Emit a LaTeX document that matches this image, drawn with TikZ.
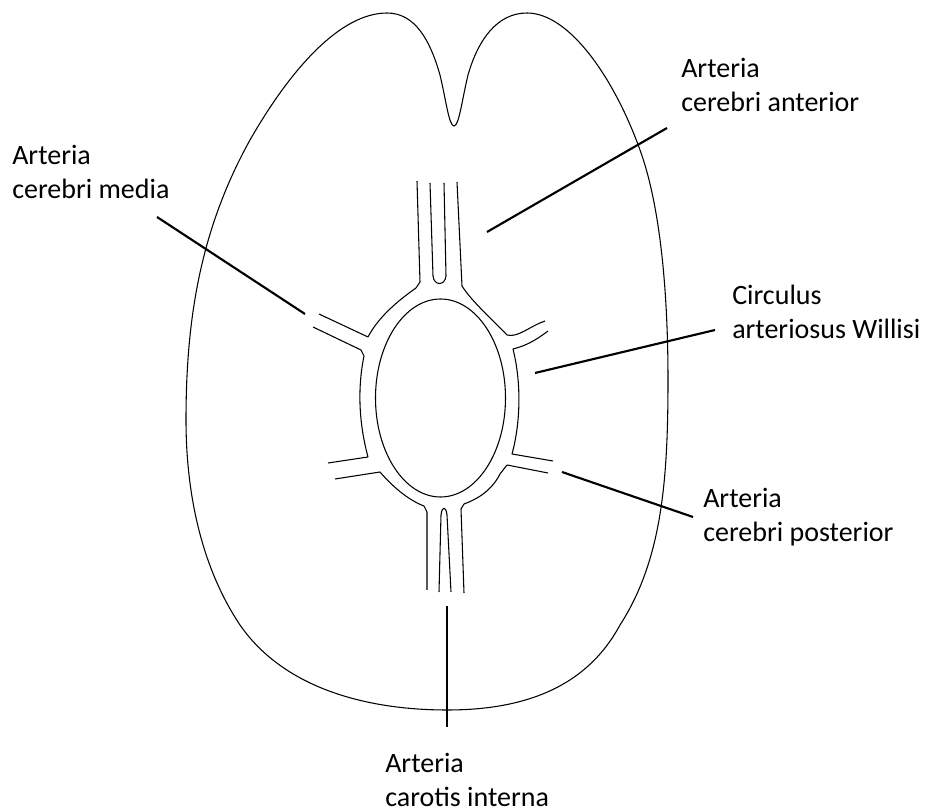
\documentclass[tikz,border=0pt]{standalone}
\usepackage{fontspec}
\setmainfont{Carlito}

\begin{document}
\begin{tikzpicture}[x=0.75pt,y=-0.75pt,
  brain/.style={line width=0.8pt},
  vessel/.style={line width=0.8pt,line join=round},
  leader/.style={line width=1.6pt},
  lbl/.style={anchor=north west,inner sep=0pt,align=left,
    font=\fontsize{21}{25.5}\selectfont}]
  \useasboundingbox (0,0) rectangle (926,812);

  % outline of the brain, notch at the top
  \draw[brain] (454,126) .. controls (459,126) and (462,100) .. (468,75)
    .. controls (478,40) and (497,13) .. (527,13)
    .. controls (570,13) and (615,80) .. (640,150)
    .. controls (660,205) and (668,290) .. (668,380)
    .. controls (668,480) and (662,560) .. (620,625)
    .. controls (585,690) and (520,710) .. (447,710)
    .. controls (370,710) and (285,690) .. (240,625)
    .. controls (200,565) and (186,490) .. (186,420)
    .. controls (186,320) and (200,230) .. (250,140)
    .. controls (290,70) and (340,13) .. (387,13)
    .. controls (415,13) and (430,40) .. (440,75)
    .. controls (446,100) and (449,126) .. (454,126) -- cycle;

  % circle of Willis
  \draw[vessel] (440.5,398) ellipse [x radius=65,y radius=99];
  % anterior trunk and upper arcs
  \draw[vessel] (417,181) -- (420,282) -- (416,288)
    .. controls (396,302) and (378,318) .. (368,337) -- (319,314);
  \draw[vessel] (430,183) -- (433,276)
    .. controls (434,286) and (445,286) .. (446,276) -- (444,183);
  \draw[vessel] (545,321) .. controls (530,326) and (518,338) .. (507,335)
    .. controls (495,322) and (472,302) .. (462,286) -- (457,182);
  % side segments
  \draw[vessel] (313,327) -- (361,350) -- (364,356)
    .. controls (358,385) and (358,420) .. (368,457) -- (328,463);
  \draw[vessel] (553,461) -- (512,454)
    .. controls (520,425) and (522,385) .. (513,349)
    .. controls (525,346) and (535,341) .. (548,331);
  % lower arcs and carotid trunk
  \draw[vessel] (335,479) -- (380,472)
    .. controls (392,486) and (408,500) .. (424,506) -- (427,512) -- (427,590);
  \draw[vessel] (439,592) -- (441,515)
    .. controls (442,506) and (446,506) .. (447,515) -- (451,592);
  \draw[vessel] (464,593) -- (461,509) -- (464,504)
    .. controls (478,499) and (492,490) .. (500,474) -- (507,465) -- (548,473);

  % labels
  \node[lbl] (anterior) at (681,58) {Arteria\\cerebri anterior};
  \node[lbl] (media) at (12,145) {Arteria\\cerebri media};
  \node[lbl] (circulus) at (732,285) {Circulus\\arteriosus Willisi};
  \node[lbl] (posterior) at (703,488) {Arteria\\cerebri posterior};
  \node[lbl] (carotis) at (385,753) {Arteria\\carotis interna};

  \coordinate (anterior-tip) at (487,232);
  \coordinate (media-tip) at (305,314);
  \coordinate (circulus-tip) at (535,373);
  \coordinate (posterior-tip) at (562,472);
  \coordinate (carotis-tip) at (447,606);

  \draw[leader] ([shift={(-14,70)}]anterior.north west) -- (anterior-tip);
  \draw[leader] ([shift={(145,72)}]media.north west) -- (media-tip);
  \draw[leader] ([shift={(-17,45)}]circulus.north west) -- (circulus-tip);
  \draw[leader] ([shift={(-10,29)}]posterior.north west) -- (posterior-tip);
  \draw[leader] ([shift={(62,-26)}]carotis.north west) -- (carotis-tip);
\end{tikzpicture}
\end{document}
